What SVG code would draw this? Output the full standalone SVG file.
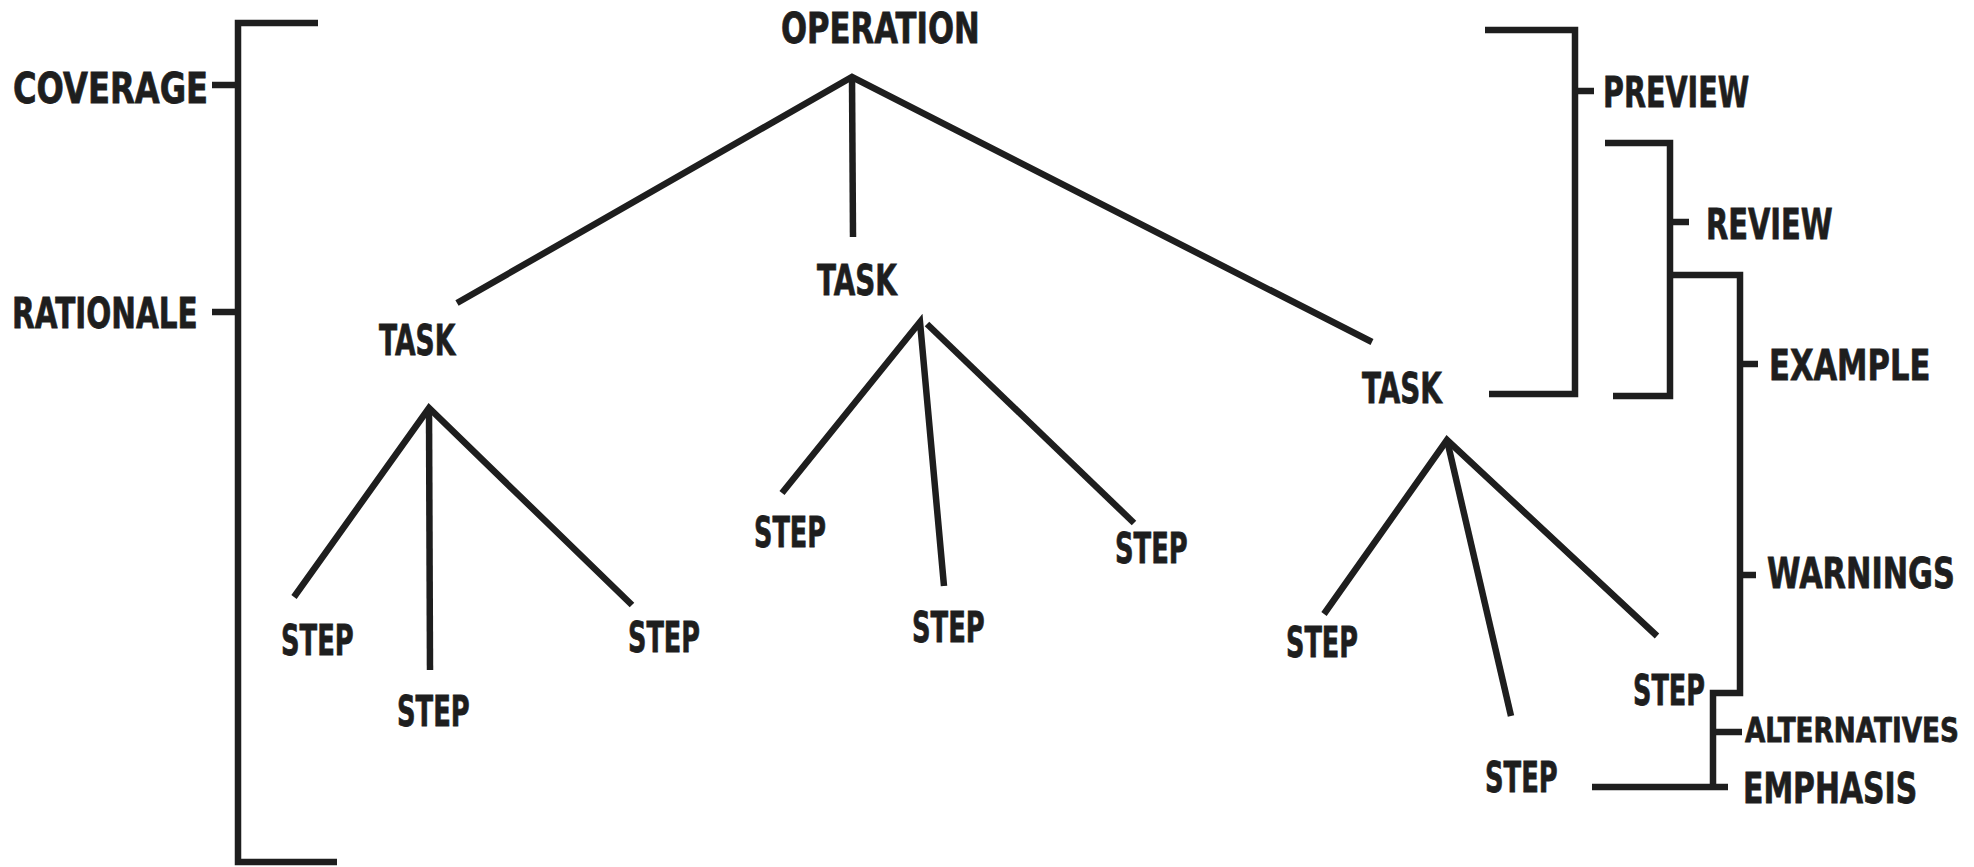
<svg xmlns="http://www.w3.org/2000/svg" width="1974" height="867" viewBox="0 0 1974 867">
<style>
.t{font-family:"DejaVu Sans","Liberation Sans",sans-serif;font-weight:bold;font-size:42px;fill:#1e1e1e;stroke:#1e1e1e;stroke-width:0.8}
.s{font-size:34px}
.c{fill:none;stroke:#1e1e1e;stroke-width:6.5;stroke-linejoin:miter;stroke-linecap:butt}
</style>
<rect width="1974" height="867" fill="#ffffff"/>
<g id="connectors" class="c">
<path d="M318,23 H238 V862 H337"/>
<path d="M212,85 H238"/>
<path d="M212,312 H238"/>
<path d="M457,303 L852,77 L1372,342"/>
<path d="M852,77 L853,237"/>
<path d="M294,597 L429,408 L632,605"/>
<path d="M429,408 L430,670"/>
<path d="M782,493 L920,322 L944,586"/>
<path d="M927,324 L1134,523"/>
<path d="M1324,614 L1447,440 L1657,636"/>
<path d="M1447,440 L1511,716"/>
<path d="M1485,30 H1575 V394 H1489"/>
<path d="M1575,91 H1594"/>
<path d="M1605,143 H1670 V396 H1613"/>
<path d="M1670,222 H1689"/>
<path d="M1670,275 H1740 V693 H1713 V787"/>
<path d="M1740,364 H1758"/>
<path d="M1740,575 H1756"/>
<path d="M1713,732 H1742"/>
<path d="M1592,787 H1728"/>
</g>
<g id="operation"><text class="t" transform="translate(781,43) scale(0.72,1)" textLength="276" lengthAdjust="spacingAndGlyphs">OPERATION</text></g>
<g id="coverage"><text class="t" transform="translate(13,103) scale(0.72,1)" textLength="271" lengthAdjust="spacingAndGlyphs">COVERAGE</text></g>
<g id="rationale"><text class="t" transform="translate(12,328) scale(0.72,1)" textLength="258" lengthAdjust="spacingAndGlyphs">RATIONALE</text></g>
<g id="task-left"><text class="t" transform="translate(379,355) scale(0.72,1)" textLength="106" lengthAdjust="spacingAndGlyphs">TASK</text></g>
<g id="task-middle"><text class="t" transform="translate(817,295) scale(0.72,1)" textLength="111" lengthAdjust="spacingAndGlyphs">TASK</text></g>
<g id="task-right"><text class="t" transform="translate(1362,403) scale(0.72,1)" textLength="111" lengthAdjust="spacingAndGlyphs">TASK</text></g>
<g id="step-l1"><text class="t" transform="translate(281,655) scale(0.72,1)" textLength="101" lengthAdjust="spacingAndGlyphs">STEP</text></g>
<g id="step-l2"><text class="t" transform="translate(397,726) scale(0.72,1)" textLength="101" lengthAdjust="spacingAndGlyphs">STEP</text></g>
<g id="step-l3"><text class="t" transform="translate(628,652) scale(0.72,1)" textLength="100" lengthAdjust="spacingAndGlyphs">STEP</text></g>
<g id="step-m1"><text class="t" transform="translate(754,547) scale(0.72,1)" textLength="100" lengthAdjust="spacingAndGlyphs">STEP</text></g>
<g id="step-m2"><text class="t" transform="translate(912,642) scale(0.72,1)" textLength="101" lengthAdjust="spacingAndGlyphs">STEP</text></g>
<g id="step-m3"><text class="t" transform="translate(1115,563) scale(0.72,1)" textLength="101" lengthAdjust="spacingAndGlyphs">STEP</text></g>
<g id="step-r1"><text class="t" transform="translate(1286,657) scale(0.72,1)" textLength="100" lengthAdjust="spacingAndGlyphs">STEP</text></g>
<g id="step-r2"><text class="t" transform="translate(1485,792) scale(0.72,1)" textLength="101" lengthAdjust="spacingAndGlyphs">STEP</text></g>
<g id="step-r3"><text class="t" transform="translate(1633,705) scale(0.72,1)" textLength="100" lengthAdjust="spacingAndGlyphs">STEP</text></g>
<g id="preview"><text class="t" transform="translate(1603,107) scale(0.72,1)" textLength="203" lengthAdjust="spacingAndGlyphs">PREVIEW</text></g>
<g id="review"><text class="t" transform="translate(1706,239) scale(0.72,1)" textLength="176" lengthAdjust="spacingAndGlyphs">REVIEW</text></g>
<g id="example"><text class="t" transform="translate(1769,380) scale(0.72,1)" textLength="224" lengthAdjust="spacingAndGlyphs">EXAMPLE</text></g>
<g id="warnings"><text class="t" transform="translate(1767,588) scale(0.72,1)" textLength="261" lengthAdjust="spacingAndGlyphs">WARNINGS</text></g>
<g id="alternatives"><text class="t s" transform="translate(1745,742) scale(0.72,1)" textLength="297" lengthAdjust="spacingAndGlyphs">ALTERNATIVES</text></g>
<g id="emphasis"><text class="t" transform="translate(1743,803) scale(0.72,1)" textLength="242" lengthAdjust="spacingAndGlyphs">EMPHASIS</text></g>
</svg>
